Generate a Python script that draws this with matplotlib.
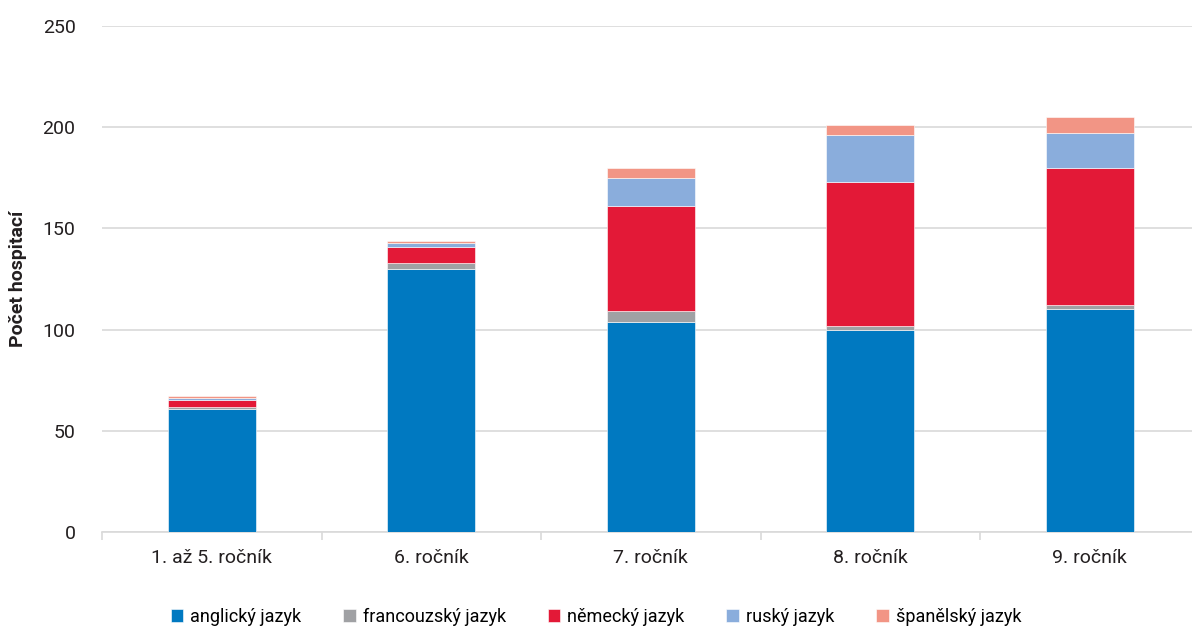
import numpy as np
import matplotlib.pyplot as plt
from matplotlib import font_manager

categories = ['1. až 5. ročník', '6. ročník', '7. ročník', '8. ročník', '9. ročník']
anglicky = [61, 130, 104, 100, 110]
francouzsky = [1, 3, 5, 2, 2]
nemecky = [3, 8, 52, 71, 68]
rusky = [1, 2, 14, 23, 17]
spanelsky = [1, 1, 5, 5, 8]

series = [
    ('anglický jazyk', anglicky, '#0079C1'),
    ('francouzský jazyk', francouzsky, '#A0A1A4'),
    ('německý jazyk', nemecky, '#E31937'),
    ('ruský jazyk', rusky, '#8AADDC'),
    ('španělský jazyk', spanelsky, '#F29585'),
]

names = {f.name for f in font_manager.fontManager.ttflist}
fam = ['Liberation Sans Narrow', 'DejaVu Sans'] if 'Liberation Sans Narrow' in names else ['Roboto', 'DejaVu Sans']
plt.rcParams['font.family'] = fam

fig = plt.figure(figsize=(11.92, 6.31), dpi=100)
ax = fig.add_axes([102 / 1192, 99 / 631, 1097.5 / 1192, 506 / 631])

x = np.arange(len(categories))
bottom = np.zeros(len(categories))
for label, vals, col in series:
    ax.bar(x, vals, 0.4, bottom=bottom, color=col, label=label,
           edgecolor='white', linewidth=0.4, zorder=3)
    bottom += np.array(vals)

ax.set_xlim(-0.5, 4.5)
ax.set_ylim(0, 250)
ax.set_yticks([0, 50, 100, 150, 200, 250])
ax.grid(axis='y', color='#D9D9D9', linewidth=1.2, zorder=0)
for s in ['top', 'right', 'left']:
    ax.spines[s].set_visible(False)
ax.spines['bottom'].set_color('#D9D9D9')
ax.spines['bottom'].set_linewidth(1.2)
ax.set_xticks(x)
ax.set_xticklabels(categories, fontsize=14, color='#231F20')
ax.set_xticks(np.arange(-0.5, 5, 1), minor=True)
ax.tick_params(axis='x', which='major', length=0, pad=12)
ax.tick_params(axis='x', which='minor', length=6, color='#D9D9D9', width=1.2)
ax.tick_params(axis='y', length=0, labelsize=14, labelcolor='#231F20', pad=19)

# y label sits close to the left edge, centred on the plot area
fig.text(18 / 1192, 1 - 279 / 631, 'Počet hospitací', rotation=90,
         fontsize=14, fontweight='bold', color='#231F20',
         ha='center', va='center')

fig.legend(loc='center', bbox_to_anchor=(0.5, 1 - 617 / 631), ncol=5, frameon=False,
           fontsize=13, handlelength=0.7, handleheight=0.7, columnspacing=2.3,
           handletextpad=0.4)

fig.savefig('out.png', dpi=100)
